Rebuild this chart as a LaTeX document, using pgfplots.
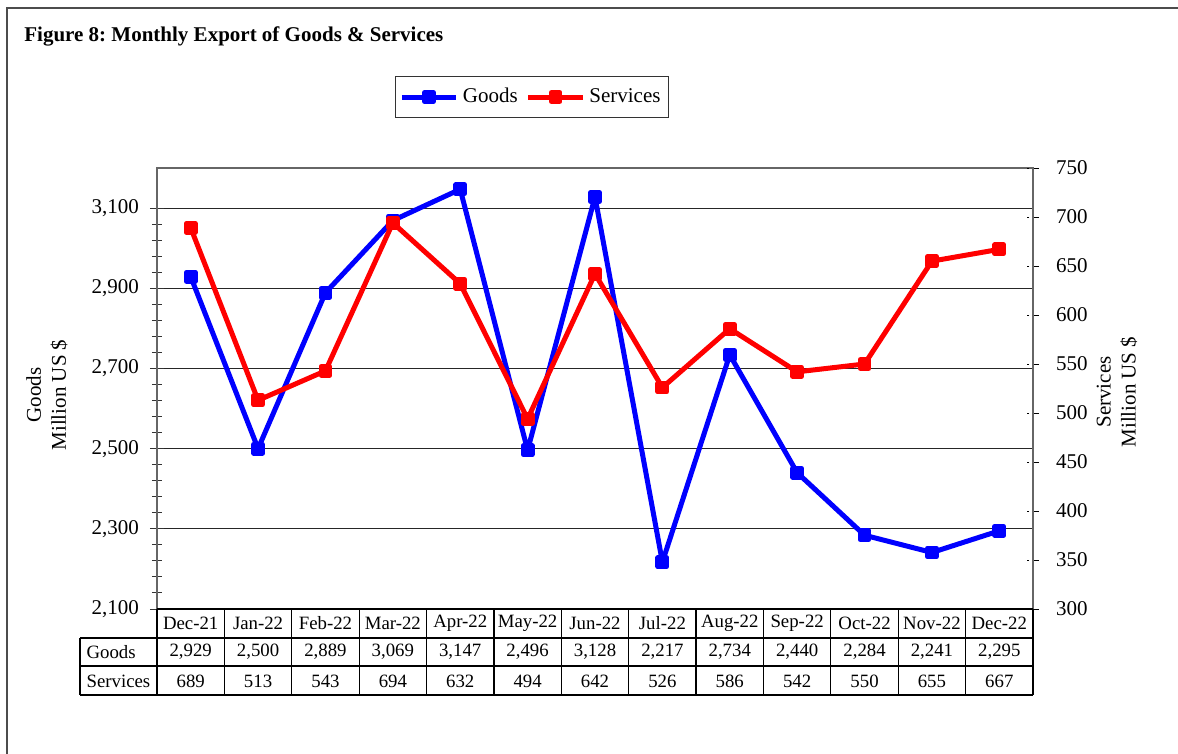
\documentclass[border=0pt]{standalone}
\usepackage{fontspec}
\setmainfont{Liberation Serif}
\usepackage{pgfplots}
\usepackage{pgfplotstable}
\pgfplotsset{compat=1.18}
\frenchspacing

\definecolor{gblue}{RGB}{0,0,255}
\definecolor{sred}{RGB}{255,0,0}
\newcommand\lblsize{\fontsize{10.5}{12.5}\selectfont}
\newcommand\tabsize{\fontsize{9.4}{11}\selectfont}

% month index, goods and services exports (million US$)
\pgfplotstableread{
x goods services
0 2929 689
1 2500 513
2 2889 543
3 3069 694
4 3147 632
5 2496 494
6 3128 642
7 2217 526
8 2734 586
9 2440 542
10 2284 550
11 2241 655
12 2295 667
}\exportdata

\pgfplotsset{
  base/.style={at={(78.5pt,-304.5pt)},anchor=south west,scale only axis,
    width=438pt,height=220.5pt,xmin=-0.5,xmax=12.5,xtick=\empty,
    /pgf/number format/assume math mode=true,
    yticklabel style={font=\lblsize,/pgf/number format/1000 sep={,}}},
  goodsline/.style={gblue,line width=2.5pt,line join=round,mark=square*,mark size=2.2pt,mark options={solid}},
  servline/.style={sred,line width=2.5pt,line join=round,mark=square*,mark size=2.2pt,mark options={solid}},
}

\begin{document}
\begin{tikzpicture}
\begin{scope}[x=0.5pt,y=-0.5pt]
  \path[use as bounding box] (0,0) rectangle (1178,754);
  \draw[black!70,line width=0.8pt] (7,754) -- (7,8) -- (1178,8);
  \node[anchor=base west,font=\bfseries\lblsize,inner sep=0pt] at (24,42) {Figure 8: Monthly Export of Goods \& Services};
  \node[rotate=90,align=center,font=\lblsize] at (47,395) {Goods\\Million US \$};
  \node[rotate=90,align=center,font=\lblsize] at (1117,392) {Services\\Million US \$};
\end{scope}

\begin{axis}[base,ymin=2100,ymax=3200,
  ytick={2100,2300,2500,2700,2900,3100},minor y tick num=4,
  ytick pos=left,tick align=center,major tick length=7pt,minor tick length=5pt,
  tick style={black!80,line width=0.5pt},
  yticklabel style={xshift=-2pt},
  ymajorgrids,major grid style={black!85,line width=0.5pt},
  axis line style={black!60,line width=0.8pt}]
  \addplot[goodsline] table[x=x,y=goods]{\exportdata};
\end{axis}

\begin{axis}[base,ymin=300,ymax=750,ytick={300,350,...,750},
  axis y line*=right,axis x line=none,tick align=center,major tick length=6pt,
  tick style={black,densely dashed,line width=0.4pt},
  yticklabel style={xshift=5pt},
  axis line style={black!60,line width=0.8pt},
  legend columns=2,
  legend style={at={(0.428,1.161)},anchor=center,draw=black!80,line width=0.6pt,
    font=\lblsize,inner xsep=2pt,inner ysep=4pt,
    /tikz/every even column/.append style={column sep=2pt}},
  legend image code/.code={\draw[mark repeat=2,mark phase=2] plot coordinates {(0cm,0cm) (0.48cm,0cm) (0.96cm,0cm)};}]
  \addlegendimage{goodsline}
  \addlegendentry{Goods}
  \addplot[servline] table[x=x,y=services]{\exportdata};
  \addlegendentry{Services}
\end{axis}

\begin{scope}[x=0.5pt,y=-0.5pt,line width=0.6pt]
  \draw (157,609) -- (1033,609);
  \draw (80,638) -- (1033,638);
  \draw (80,666) -- (1033,666);
  \draw (80,695) -- (1033,695);
  \draw (80,638) -- (80,695);
  \foreach \i in {0,...,13} \draw ({157+\i*67.385},609) -- ({157+\i*67.385},695);
  \node[anchor=west,font=\tabsize,inner xsep=0pt] at (86,652) {Goods};
  \node[anchor=west,font=\tabsize,inner xsep=0pt] at (86,681) {Services};
  \foreach \m [count=\i from 0] in {Dec-21,Jan-22,Feb-22,Mar-22,Apr-22,May-22,Jun-22,Jul-22,Aug-22,Sep-22,Oct-22,Nov-22,Dec-22}
    \node[font=\tabsize] at ({190.7+\i*67.385},623.5) {\m};
  \foreach \v [count=\i from 0] in {2{,}929,2{,}500,2{,}889,3{,}069,3{,}147,2{,}496,3{,}128,2{,}217,2{,}734,2{,}440,2{,}284,2{,}241,2{,}295}
    \node[font=\tabsize] at ({190.7+\i*67.385},652) {\v};
  \foreach \v [count=\i from 0] in {689,513,543,694,632,494,642,526,586,542,550,655,667}
    \node[font=\tabsize] at ({190.7+\i*67.385},681) {\v};
\end{scope}
\end{tikzpicture}
\end{document}
